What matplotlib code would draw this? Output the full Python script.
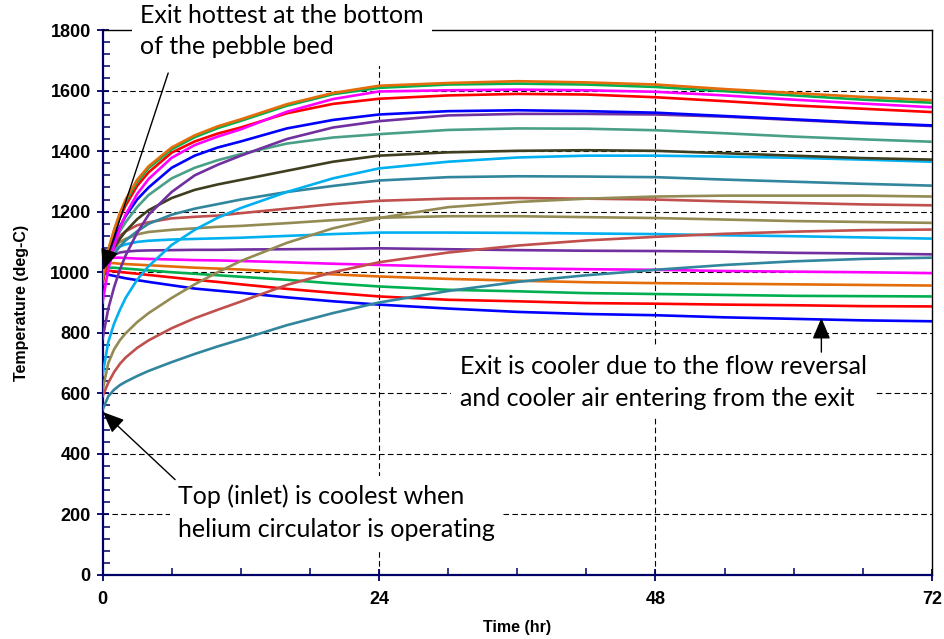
import matplotlib
matplotlib.use("Agg")
import matplotlib.pyplot as plt
from matplotlib.ticker import MultipleLocator

##  Data: temperature (deg-C) at these times (hr)

hours = [0, 0.5, 1, 1.5, 2, 3, 4, 6, 8, 10, 12, 16, 20, 24, 30, 36, 42, 48, 54, 60, 66, 72]

# upper group: heats up, peaks around 30-40 hr
orange_top = [980, 1075, 1140, 1195, 1240, 1305, 1350, 1412, 1452, 1482, 1505, 1555, 1592, 1616, 1625, 1631, 1627, 1620, 1605, 1592, 1579, 1568]
green_top = [975, 1070, 1135, 1188, 1233, 1298, 1344, 1406, 1446, 1476, 1500, 1550, 1588, 1609, 1620, 1623, 1620, 1612, 1598, 1584, 1570, 1560]
magenta_top = [900, 1010, 1085, 1145, 1190, 1258, 1308, 1378, 1420, 1448, 1472, 1530, 1572, 1597, 1601, 1603, 1601, 1596, 1584, 1570, 1557, 1545]
red_top = [960, 1060, 1125, 1180, 1220, 1285, 1330, 1395, 1432, 1458, 1478, 1525, 1556, 1573, 1584, 1589, 1587, 1578, 1565, 1551, 1540, 1529]
blue_top = [985, 1060, 1110, 1150, 1185, 1240, 1280, 1345, 1385, 1412, 1432, 1475, 1503, 1521, 1532, 1535, 1532, 1527, 1516, 1505, 1494, 1485]
purple_top = [780, 880, 950, 1008, 1055, 1130, 1190, 1265, 1320, 1355, 1385, 1440, 1478, 1499, 1518, 1523, 1523, 1521, 1514, 1503, 1492, 1483]
seagreen = [975, 1050, 1095, 1135, 1165, 1215, 1255, 1310, 1345, 1370, 1390, 1425, 1445, 1456, 1470, 1475, 1474, 1469, 1459, 1448, 1439, 1431]
darkolive = [985, 1045, 1080, 1110, 1135, 1175, 1205, 1245, 1272, 1290, 1305, 1335, 1365, 1385, 1396, 1401, 1403, 1401, 1393, 1385, 1377, 1372]
cyan_top = [660, 770, 830, 875, 915, 975, 1020, 1090, 1140, 1180, 1212, 1265, 1310, 1343, 1365, 1379, 1385, 1385, 1382, 1378, 1372, 1365]
tealblue = [990, 1030, 1060, 1085, 1105, 1135, 1160, 1190, 1210, 1225, 1240, 1265, 1285, 1303, 1314, 1317, 1316, 1314, 1306, 1299, 1292, 1286]
khaki_rise = [610, 700, 745, 775, 798, 835, 865, 915, 960, 1000, 1037, 1097, 1145, 1179, 1215, 1232, 1243, 1250, 1253, 1253, 1253, 1250]
brick_flat = [1000, 1060, 1095, 1120, 1135, 1155, 1165, 1178, 1183, 1187, 1195, 1210, 1225, 1236, 1243, 1245, 1243, 1240, 1234, 1229, 1224, 1221]
khaki_flat = [1005, 1050, 1080, 1100, 1110, 1125, 1133, 1140, 1145, 1150, 1153, 1162, 1172, 1180, 1185, 1185, 1182, 1179, 1174, 1169, 1166, 1163]
brick_rise = [590, 635, 670, 697, 718, 750, 775, 815, 848, 876, 903, 958, 1000, 1033, 1065, 1088, 1105, 1117, 1127, 1134, 1139, 1141]
cyan_flat = [1010, 1055, 1075, 1085, 1092, 1100, 1104, 1108, 1110, 1112, 1114, 1120, 1126, 1131, 1131, 1130, 1128, 1126, 1122, 1119, 1115, 1111]
purple_flat = [1015, 1045, 1058, 1065, 1068, 1071, 1072, 1073, 1074, 1074, 1075, 1076, 1077, 1079, 1076, 1073, 1071, 1070, 1068, 1064, 1062, 1059]
teal_rise = [545, 590, 612, 627, 638, 657, 674, 703, 730, 755, 778, 825, 865, 900, 938, 968, 990, 1008, 1024, 1036, 1044, 1048]

# lower group: starts near 1000 and cools off
magenta_low = [1020, 1045, 1048, 1048, 1047, 1045, 1044, 1042, 1040, 1039, 1037, 1033, 1028, 1024, 1018, 1013, 1010, 1008, 1004, 1002, 1000, 997]
orange_low = [1015, 1030, 1030, 1028, 1027, 1025, 1023, 1019, 1015, 1012, 1009, 1000, 993, 986, 978, 972, 967, 964, 962, 960, 958, 956]
green_low = [1010, 1015, 1015, 1013, 1012, 1009, 1006, 1000, 995, 990, 985, 975, 963, 953, 942, 937, 931, 928, 925, 922, 921, 920]
red_low = [1005, 1005, 1003, 1001, 999, 995, 991, 983, 975, 968, 960, 945, 932, 920, 909, 904, 898, 896, 893, 891, 888, 887]
blue_low = [1000, 992, 988, 984, 980, 974, 968, 957, 946, 939, 932, 917, 904, 893, 880, 869, 862, 858, 851, 846, 841, 838]

curves = [
    (blue_low, "#0000FF"), (red_low, "#FF0000"), (green_low, "#00B050"),
    (orange_low, "#E46C0A"), (magenta_low, "#FF00FF"),
    (teal_rise, "#31859C"), (purple_flat, "#7030A0"), (cyan_flat, "#00B0F0"),
    (brick_rise, "#C0504D"), (khaki_flat, "#948A54"), (brick_flat, "#C0504D"),
    (khaki_rise, "#948A54"), (tealblue, "#31859C"), (cyan_top, "#00B0F0"),
    (darkolive, "#3F3F1F"), (seagreen, "#4AA087"), (purple_top, "#7030A0"),
    (blue_top, "#0000FF"), (red_top, "#FF0000"), (magenta_top, "#FF00FF"),
    (green_top, "#00B050"), (orange_top, "#E46C0A"),
]

##  Figure

fig = plt.figure(figsize=(9.45, 6.39), dpi=100)
ax = fig.add_axes([0.1085, 0.1002, 0.8777, 0.8528])

for values, col in curves:
    ax.plot(hours, values, color=col, lw=1.9, zorder=3)

ax.set_xlim(0, 72)
ax.set_ylim(0, 1800)
ax.xaxis.set_major_locator(MultipleLocator(24))
ax.xaxis.set_minor_locator(MultipleLocator(6))
ax.yaxis.set_major_locator(MultipleLocator(200))
ax.yaxis.set_minor_locator(MultipleLocator(40))

# dashed grid, Excel style
for yv in range(200, 1800, 200):
    ax.axhline(yv, color="black", lw=0.8, ls=(0, (5, 3)), zorder=1)
for xv in (24, 48):
    ax.axvline(xv, color="black", lw=0.8, ls=(0, (5, 3)), zorder=1)

for s in ("left", "bottom"):
    ax.spines[s].set_color("#000066")
    ax.spines[s].set_linewidth(1.6)
for s in ("top", "right"):
    ax.spines[s].set_color("black")
    ax.spines[s].set_linewidth(1.0)

ax.tick_params(axis="both", which="major", direction="inout", length=9, width=1.3,
               color="#000066", pad=4)
ax.tick_params(axis="both", which="minor", direction="in", length=5, width=1.1,
               color="#000066")
ax.tick_params(axis="x", which="major", pad=7)

for lab in ax.get_xticklabels() + ax.get_yticklabels():
    lab.set_fontfamily("Liberation Sans")
    lab.set_fontweight("bold")
    lab.set_fontsize(13)

ax.set_xlabel("Time (hr)", fontfamily="Liberation Sans", fontweight="bold", fontsize=11.5)
ax.set_ylabel("Temperature (deg-C)", fontfamily="Liberation Sans", fontweight="bold", fontsize=11.5)
ax.xaxis.set_label_coords(0.5, -0.082)
ax.yaxis.set_label_coords(-0.089, 0.5)

##  Call-outs

box = dict(facecolor="white", edgecolor="none", pad=6)
arrow = dict(arrowstyle="-|>,head_length=1.3,head_width=0.55", color="black", lw=1.0,
             shrinkA=0, shrinkB=0)

ax.annotate("", xy=(0.05, 1007), xytext=(5.7, 1658), arrowprops=arrow, zorder=6)
ax.text(3.25, 1885, "Exit hottest at the bottom\nof the pebble bed", ha="left", va="top",
        fontfamily="Lato", fontsize=18, linespacing=1.4, bbox=box, clip_on=False, zorder=5)

ax.annotate("", xy=(0.04, 538), xytext=(6.3, 315), arrowprops=arrow, zorder=6)
ax.text(6.55, 300, "Top (inlet) is coolest when\nhelium circulator is operating", ha="left", va="top",
        fontfamily="Lato", fontsize=18, linespacing=1.55, bbox=box, zorder=5)

ax.annotate("", xy=(62.4, 849), xytext=(62.4, 736), arrowprops=arrow, zorder=6)
ax.text(31.0, 725, "Exit is cooler due to the flow reversal\nand cooler air entering from the exit",
        ha="left", va="top", fontfamily="Lato", fontsize=18, linespacing=1.45, bbox=box, zorder=5)

fig.savefig("out.png", dpi=100)
plt.close(fig)
